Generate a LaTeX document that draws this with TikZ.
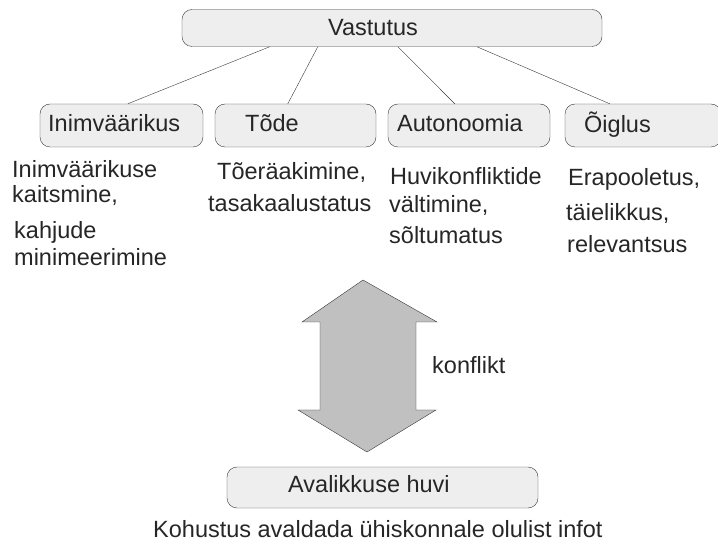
\documentclass[tikz,border=0pt]{standalone}
\usepackage{fontspec}
\setmainfont{Liberation Sans}
\definecolor{boxfill}{HTML}{EEEEEE}
\definecolor{boxline}{HTML}{383838}
\definecolor{arrowfill}{HTML}{C0C0C0}
\tikzset{
  topic/.style={draw=boxline, fill=boxfill, rounded corners=10, inner sep=0},
  caption/.style={anchor=base west, inner sep=0, font=\fontsize{23.5}{28}\selectfont, text=black!85},
  link/.style={draw=boxline},
  bigarrow/.style={draw=boxline, fill=arrowfill, line join=miter},
}

\begin{document}
\begin{tikzpicture}[x=1pt, y=-1pt]
    \useasboundingbox (0,0) rectangle (718,545);
    % Vastutus and its four values
    \node[topic, minimum width=420, minimum height=37] (vastutus) at (392,28) {};
    \node[caption] (vastutustext) at (328,36) {Vastutus};
    \node[topic, minimum width=163, minimum height=43] (inim) at (121.5,125.5) {};
    \node[caption] (inimtext) at (48,132) {Inimväärikus};
    \node[topic, minimum width=161, minimum height=43] (tode) at (295.5,125.5) {};
    \node[caption] (todetext) at (245,132) {Tõde};
    \node[topic, minimum width=162, minimum height=43] (auto) at (469,125.5) {};
    \node[caption] (autotext) at (397,132) {Autonoomia};
    \node[topic, minimum width=156, minimum height=43] (oiglus) at (643,125.5) {};
    \node[caption] (oiglustext) at (584,133) {Õiglus};
    \draw[link] ([xshift=88]vastutus.south west) -- ([xshift=88]inim.north west);
    \draw[link] ([xshift=136]vastutus.south west) -- ([xshift=73]tode.north west);
    \draw[link] ([xshift=216]vastutus.south west) -- ([xshift=67]auto.north west);
    \draw[link] ([xshift=295]vastutus.south west) -- ([xshift=45]oiglus.north west);
    % what each value means
    \node[caption] (inim1) at (12,178) {Inimväärikuse};
    \node[caption] (inim2) at (12,203) {kaitsmine,};
    \node[caption] (inim3) at (14,239) {kahjude};
    \node[caption] (inim4) at (14,266) {minimeerimine};
    \node[caption] (tode1) at (217,180) {Tõeräakimine,};
    \node[caption] (tode2) at (208,212) {tasakaalustatus};
    \node[caption] (auto1) at (390,185) {Huvikonfliktide};
    \node[caption] (auto2) at (389,213) {vältimine,};
    \node[caption] (auto3) at (389,244) {sõltumatus};
    \node[caption] (oiglus1) at (568,186) {Erapooletus,};
    \node[caption] (oiglus2) at (566,221) {täielikkus,};
    \node[caption] (oiglus3) at (567,253) {relevantsus};
    % the conflict
    \draw[bigarrow] (363,280) -- (437,322) -- (416,322) -- (416,410) -- (436,410) -- (367,452)
      -- (298,410) -- (320,410) -- (320,322) -- (302,322) -- cycle;
    \node[caption] (konflikt) at (432,374) {konflikt};
    \node[topic, minimum width=311, minimum height=41] (avalik) at (382.5,487.5) {};
    \node[caption] (avaliktext) at (288,492) {Avalikkuse huvi};
    \node[caption] (kohustus) at (153,537) {Kohustus avaldada ühiskonnale olulist infot};
\end{tikzpicture}
\end{document}
